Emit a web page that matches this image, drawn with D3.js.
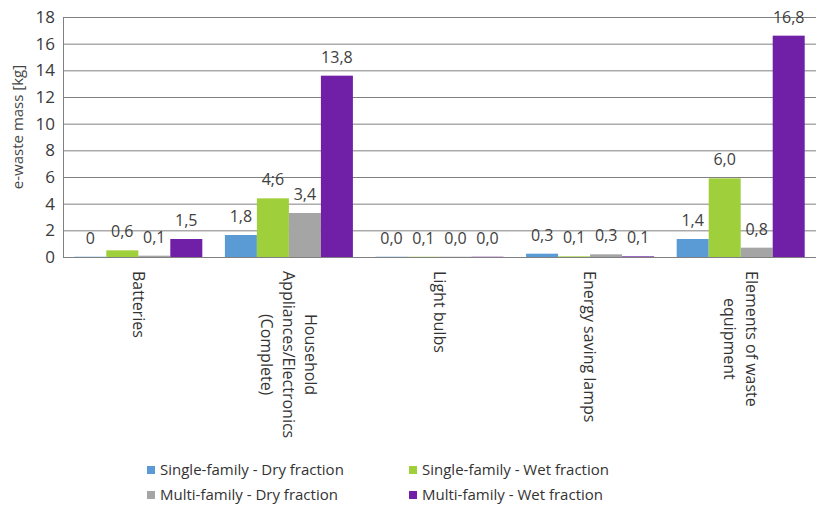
<!DOCTYPE html>
<html>
<head>
<meta charset="utf-8">
<script src="https://cdn.jsdelivr.net/npm/d3@7"></script>
<style>
  body { margin: 0; background: #fff; }
  svg { font-family: "Open Sans", sans-serif; }
</style>
</head>
<body>
<div id="chart"></div>
<script>
// 카테고리 (줄바꿈은 배열로)
const categories = [
  ["Batteries"],
  ["Household", "Appliances/Electronics", "(Complete)"],
  ["Light bulbs"],
  ["Energy saving lamps"],
  ["Elements of waste", "equipment"]
];
const seriesNames = [
  "Single-family - Dry fraction",
  "Single-family - Wet fraction",
  "Multi-family - Dry fraction",
  "Multi-family - Wet fraction"
];
const seriesColors = ["#5b9bd5", "#9fcf3a", "#a5a5a5", "#7020a6"];
// 막대 높이
const singleDry = [0.02, 1.65, 0.02, 0.25, 1.35];
const singleWet = [0.5, 4.4, 0.02, 0.05, 5.9];
const multiDry  = [0.1, 3.3, 0.02, 0.2, 0.7];
const multiWet  = [1.35, 13.6, 0.02, 0.05, 16.6];
// 막대 위 라벨 (원본 그대로)
const singleDryLabels = ["0", "1,8", "0,0", "0,3", "1,4"];
const singleWetLabels = ["0,6", "4;6", "0,1", "0,1", "6,0"];
const multiDryLabels  = ["0,1", "3,4", "0,0", "0,3", "0,8"];
const multiWetLabels  = ["1,5", "13,8", "0,0", "0,1", "16,8"];
const yTicks = [0, 2, 4, 6, 8, 10, 12, 14, 16, 18];

const values = [singleDry, singleWet, multiDry, multiWet];
const labels = [singleDryLabels, singleWetLabels, multiDryLabels, multiWetLabels];

const width = 818, height = 508;
const plotLeft = 63, plotRight = 816, plotTop = 17, plotBottom = 257;

const svg = d3.select("#chart").append("svg")
  .attr("width", width)
  .attr("height", height);

const y = d3.scaleLinear().domain([0, 18]).range([plotBottom, plotTop]);
const x0 = d3.scaleBand()
  .domain(d3.range(categories.length))
  .range([plotLeft, plotRight])
  .paddingInner(0.15)
  .paddingOuter(0.075);
const x1 = d3.scaleBand()
  .domain(d3.range(seriesNames.length))
  .range([0, x0.bandwidth()]);

// 격자선 + y축
const yAxis = svg.append("g")
  .attr("transform", `translate(${plotLeft},0)`)
  .call(d3.axisLeft(y).tickValues(yTicks).tickSize(-(plotRight - plotLeft)).tickPadding(8));
yAxis.select(".domain").attr("stroke", "#808080");
yAxis.selectAll(".tick line").attr("stroke", "#808080");
yAxis.selectAll(".tick text")
  .attr("fill", "#3a3a3a")
  .style("font-size", "17px")
  .style("font-family", "'Open Sans', sans-serif");

// y축 제목
svg.append("text")
  .attr("transform", `translate(18,127) rotate(-90)`)
  .attr("text-anchor", "middle")
  .attr("dy", "0.35em")
  .attr("fill", "#444")
  .style("font-size", "15px")
  .text("e-waste mass [kg]");

// 막대
const rows = categories.map((c, i) => ({ i, vals: values.map(s => s[i]), labs: labels.map(s => s[i]) }));
const group = svg.append("g").selectAll("g")
  .data(rows)
  .enter().append("g")
  .attr("transform", d => `translate(${x0(d.i)},0)`);

group.selectAll("rect")
  .data(d => d.vals.map((v, k) => ({ v, k })))
  .enter().append("rect")
  .attr("x", d => x1(d.k))
  .attr("y", d => y(d.v))
  .attr("width", x1.bandwidth())
  .attr("height", d => y(0) - y(d.v))
  .attr("fill", d => seriesColors[d.k]);

group.selectAll("text.val")
  .data(d => d.labs.map((t, k) => ({ t, k, v: d.vals[k] })))
  .enter().append("text")
  .attr("class", "val")
  .attr("x", d => x1(d.k) + x1.bandwidth() / 2)
  .attr("y", d => y(d.v) - 13)
  .attr("text-anchor", "middle")
  .attr("fill", "#404040")
  .style("font-size", "16px")
  .text(d => d.t);

// 카테고리 라벨 (90도 회전)
const lineH = 22;
categories.forEach((lines, i) => {
  const cx = x0(i) + x0.bandwidth() / 2;
  const g = svg.append("g").attr("transform", `translate(${cx},271) rotate(90)`);
  const texts = lines.map((ln, j) => g.append("text")
    .attr("y", (j - (lines.length - 1) / 2) * lineH)
    .attr("dy", "0.35em")
    .attr("fill", "#333")
    .style("font-size", "16px")
    .text(ln));
  const maxW = d3.max(texts, t => t.node().getComputedTextLength());
  texts.forEach(t => t.attr("x", maxW / 2).attr("text-anchor", "middle"));
});

// 범례
const legendPos = [[147, 470], [409, 470], [147, 495], [409, 495]];
const legend = svg.append("g").selectAll("g")
  .data(seriesNames)
  .enter().append("g")
  .attr("transform", (d, i) => `translate(${legendPos[i][0]},${legendPos[i][1]})`);
legend.append("rect")
  .attr("x", 0).attr("y", -4)
  .attr("width", 8).attr("height", 8)
  .attr("fill", (d, i) => seriesColors[i]);
legend.append("text")
  .attr("x", 13)
  .attr("dy", "0.35em")
  .attr("fill", "#333")
  .style("font-size", "15px")
  .text(d => d);
</script>
</body>
</html>
